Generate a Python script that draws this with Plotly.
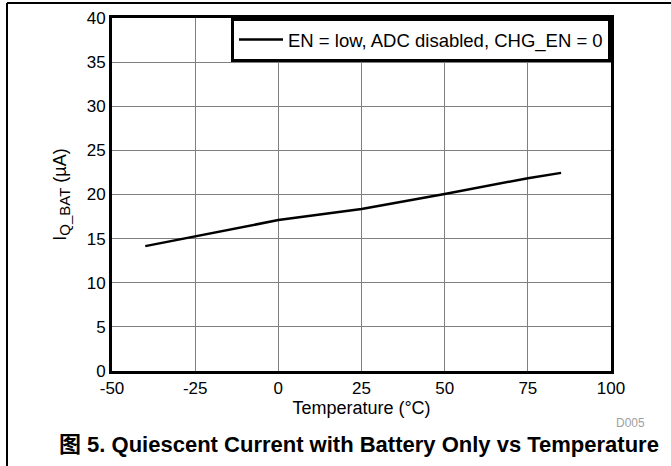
import plotly.graph_objects as go

# values
temperature = [-40, -25, 0, 25, 50, 75, 85]
iq_bat = [14.15, 15.25, 17.1, 18.35, 20.05, 21.85, 22.45]
series_name = "EN = low, ADC disabled, CHG_EN = 0"
x_ticks = [-50, -25, 0, 25, 50, 75, 100]
x_tick_labels = ["-50", "-25", "0", "25", "50", "75", "100"]

font_main = "Liberation Sans, Arial, Noto Sans CJK SC"

# plot area in pixels (for converting frame lines to paper coords)
L, R, T, B = 112, 60, 18, 95
W, H = 671, 466
pw, ph = W - L - R, H - T - B


def px_x(x):
    return (x - L) / pw


def px_y(y):
    return (H - B - y) / ph


fig = go.Figure()
fig.add_trace(
    go.Scatter(
        x=temperature,
        y=iq_bat,
        mode="lines",
        name=series_name,
        line=dict(color="black", width=2.5),
    )
)

fig.update_layout(
    width=W,
    height=H,
    margin=dict(l=L, r=R, t=T, b=B, autoexpand=False),
    paper_bgcolor="white",
    plot_bgcolor="white",
    font=dict(family=font_main, color="black", size=17),
    showlegend=True,
    legend=dict(
        x=1,
        y=1,
        xanchor="right",
        yanchor="top",
        bgcolor="white",
        bordercolor="black",
        borderwidth=3,
        font=dict(size=18.5),
        itemwidth=44,
        tracegroupgap=0,
    ),
    xaxis=dict(
        range=[-50, 100],
        tickvals=x_ticks,
        ticktext=x_tick_labels,
        showgrid=True,
        gridcolor="#7f7f7f",
        gridwidth=1,
        zeroline=False,
        showline=True,
        linecolor="black",
        linewidth=3,
        mirror=True,
        ticks="",
        tickfont=dict(size=17),
        title=dict(text="Temperature (°C)", font=dict(size=18), standoff=2),
    ),
    yaxis=dict(
        range=[0, 40],
        dtick=5,
        showgrid=True,
        gridcolor="#7f7f7f",
        gridwidth=1,
        zeroline=False,
        showline=True,
        linecolor="black",
        linewidth=3,
        mirror=True,
        ticks="",
        tickfont=dict(size=17),
        title=dict(
            text="I<sub><span style='font-size:15px'>Q_BAT</span></sub> (µA)",
            font=dict(size=18),
            standoff=16,
        ),
    ),
)

# page frame: top rule and left rule
fig.add_shape(
    type="line", xref="paper", yref="paper",
    x0=px_x(7), x1=px_x(W), y0=px_y(3), y1=px_y(3),
    line=dict(color="black", width=2),
)
fig.add_shape(
    type="line", xref="paper", yref="paper",
    x0=px_x(7), x1=px_x(7), y0=px_y(3), y1=px_y(H + 2),
    line=dict(color="black", width=2),
)

fig.add_annotation(
    text="D005", xref="paper", yref="paper",
    x=px_x(630), y=px_y(423), showarrow=False,
    xanchor="center", yanchor="middle",
    font=dict(size=12, color="#a0a0a0"),
)
fig.add_annotation(
    text="<b>图 5. Quiescent Current with Battery Only vs Temperature</b>",
    xref="paper", yref="paper",
    x=px_x(359), y=px_y(444), showarrow=False,
    xanchor="center", yanchor="middle",
    font=dict(size=22, color="black"),
)

# drop the default page margin so the figure sits at the window corner
fig.write_html(
    "out.html",
    config={"displayModeBar": False},
    post_script="document.body.style.margin='0';document.body.style.overflow='hidden';",
)
